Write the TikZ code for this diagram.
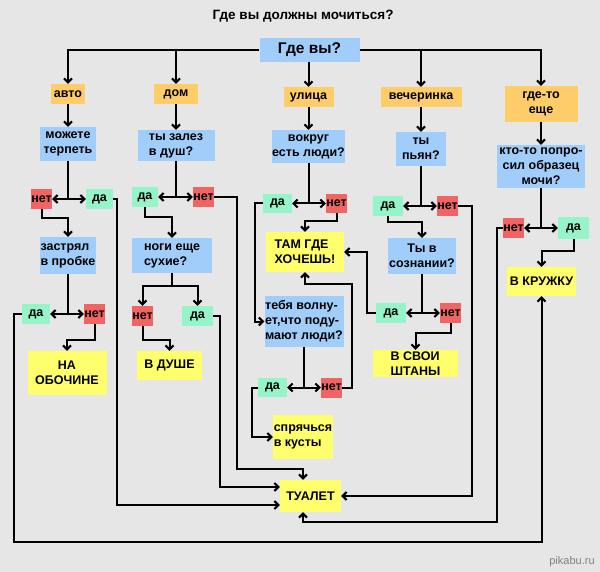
\documentclass[tikz,border=0pt]{standalone}
\usepackage{fontspec}
\setmainfont{Liberation Sans}
\usetikzlibrary{arrows.meta}

\definecolor{bggray}{RGB}{230,230,230}
\definecolor{qblue}{RGB}{160,205,250}
\definecolor{placeorange}{RGB}{254,204,104}
\definecolor{yesgreen}{RGB}{150,245,200}
\definecolor{nored}{RGB}{240,100,100}
\definecolor{endyellow}{RGB}{255,255,110}

\newcommand{\lblfont}{\fontsize{12.5}{15}\selectfont\bfseries}
\newcommand{\finfont}{\fontsize{12.5}{15.5}\selectfont\bfseries}

\tikzset{
  box/.style={inner sep=0pt, align=center, font=\lblfont},
  wh/.style 2 args={minimum width=#1pt, minimum height=#2pt},
  place/.style={box, fill=placeorange},
  question/.style={box, fill=qblue},
  yesbox/.style={box, fill=yesgreen},
  nobox/.style={box, fill=nored},
  finish/.style={box, fill=endyellow, font=\finfont},
  link/.style={line width=2pt},
  arr/.style={link, -{Straight Barb[length=4pt,width=8pt]}},
}

\begin{document}
\begin{tikzpicture}[x=1pt,y=-1pt]
% background of the picture
\fill[bggray] (0,0) rectangle (600,572);%
\useasboundingbox (0,0) rectangle (600,572);%

% Marking title and start box
\node[font=\fontsize{13.5}{16}\selectfont\bfseries] (title) at (303,16) {Где вы должны мочиться?};%
\node[question, wh={100}{24}, font=\fontsize{15.5}{18}\selectfont\bfseries] (gde) at (309.5,50) {Где вы?};%

% Marking the places
\node[place, wh={34}{20}] (avto) at (68,94) {авто};%
\node[place, wh={44}{20}] (dom) at (176,94) {дом};%
\node[place, wh={50}{20}] (ulica) at (308.5,97) {улица};%
\node[place, wh={81}{20}] (vecher) at (421,97) {вечеринка};%
\node[place, wh={73}{36}] (gdeto) at (541,104) {где-то\\еще};%

% Marking column avto
\node[question, wh={56}{34}] (terpet) at (68,144) {можете\\терпеть};%
\node[nobox, wh={21}{20}] (terpet-net) at (41.5,199) {нет};%
\node[yesbox, wh={27}{20}] (terpet-da) at (99.5,199) {да};%
\coordinate (terpet-j) at (68,199);%
\node[question, wh={56}{37}, align=left] (probka) at (68,255.5) {застрял\\в пробке};%
\node[yesbox, wh={28}{20}] (probka-da) at (36,314) {да};%
\node[nobox, wh={21}{20}] (probka-net) at (94.5,314) {нет};%
\coordinate (probka-j) at (68,314);%
\node[finish, wh={79}{44}] (obochina) at (67,373) {НА\\ОБОЧИНЕ};%

% Marking column dom
\node[question, wh={77}{31}, align=left] (dush) at (176,145.5) {ты залез\\в душ?};%
\node[yesbox, wh={26}{20}] (dush-da) at (145,197) {да};%
\node[nobox, wh={21}{20}] (dush-net) at (203.5,197) {нет};%
\coordinate (dush-j) at (176,197);%
\node[question, wh={80}{35}, align=left] (nogi) at (172,255.5) {ноги еще\\сухие?};%
\node[nobox, wh={21}{20}] (nogi-net) at (142.5,316) {нет};%
\node[yesbox, wh={31}{20}] (nogi-da) at (197.5,316) {да};%
\node[finish, wh={65}{29}] (vdushe) at (169.5,365.5) {В ДУШЕ};%

% Marking column ulica
\node[question, wh={68}{33}] (ljudi) at (308.5,146.5) {вокруг\\есть люди?};%
\node[yesbox, wh={29}{19}] (ljudi-da) at (277.5,203.5) {да};%
\node[nobox, wh={21}{19}] (ljudi-net) at (336.5,203.5) {нет};%
\coordinate (ljudi-j) at (308.5,203.5);%
\node[finish, wh={78}{40}, align=left] (tamgde) at (305,252) {ТАМ ГДЕ\\ХОЧЕШЬ!};%
\node[question, wh={79}{51}, align=left] (volnuet) at (304,321.5) {тебя волну-\\ет,что поду-\\мают люди?};%
\node[yesbox, wh={29}{19}] (volnuet-da) at (272.5,387.5) {да};%
\node[nobox, wh={21}{20}] (volnuet-net) at (331.5,387.5) {нет};%
\coordinate (volnuet-j) at (304,387.5);%
\node[finish, wh={60}{44}, align=left, font=\lblfont] (kusty) at (303,437) {спрячься\\в кусты};%
\node[finish, wh={61}{32}] (tualet) at (310.5,496) {ТУАЛЕТ};%

% Marking column vecherinka
\node[question, wh={50}{34}] (pjan) at (421,149) {ты\\пьян?};%
\node[yesbox, wh={30}{20}] (pjan-da) at (388,206) {да};%
\node[nobox, wh={21}{20}] (pjan-net) at (447.5,206) {нет};%
\coordinate (pjan-j) at (421,206);%
\node[question, wh={68}{36}] (soznanie) at (422,256) {Ты в\\сознании?};%
\node[yesbox, wh={30}{20}] (soznanie-da) at (391,313) {да};%
\node[nobox, wh={21}{20}] (soznanie-net) at (450.5,313) {нет};%
\coordinate (soznanie-j) at (422,313);%
\node[finish, wh={85}{27}, align=left, font=\fontsize{12.5}{14.5}\selectfont\bfseries] (shtany) at (415.5,363.5) {В СВОИ\\ШТАНЫ};%

% Marking column gde-to
\node[question, wh={88}{43}] (obrazec) at (541,166.5) {кто-то попро-\\сил образец\\мочи?};%
\node[nobox, wh={21}{20}] (obrazec-net) at (513.5,228) {нет};%
\node[yesbox, wh={31}{22}] (obrazec-da) at (573.5,228) {да};%
\coordinate (obrazec-j) at (541,228);%
\node[finish, wh={69}{29}] (kruzhka) at (541.5,281.5) {В КРУЖКУ};%

% Marking watermark
\node[font=\fontsize{11}{13}\selectfont, text=gray] (pikabu) at (572,562) {pikabu.ru};%

% Drawing arrows from start box
\draw[arr] (gde.west) -| (avto.north);%
\draw[arr] (gde.west) -| (dom.north);%
\draw[arr] (ulica.north |- gde.south) -- (ulica.north);%
\draw[arr] (gde.east) -| (vecher.north);%
\draw[arr] (gde.east) -| (gdeto.north);%

% Drawing column avto
\draw[arr] (avto.south) -- (terpet.north);%
\draw[link] (terpet.south) -- (terpet-j);%
\draw[arr] (terpet-j) -- (terpet-net.east);%
\draw[arr] (terpet-j) -- (terpet-da.west);%
\draw[arr] (terpet-net.south) -- ++(0,9) -| (probka.north);%
\draw[arr] (terpet-da.east) -- ++(4,0) |- ([yshift=-9pt]tualet.west);%
\draw[link] (probka.south) -- (probka-j);%
\draw[arr] (probka-j) -- (probka-da.east);%
\draw[arr] (probka-j) -- (probka-net.west);%
\draw[arr] (probka-net.south) -- ++(0,16) -| (obochina.north);%
\draw[arr] (probka-da.west) -| (14,542) -| (kruzhka.south);%

% Drawing column dom
\draw[arr] (dom.south) -- (dush.north);%
\draw[link] (dush.south) -- (dush-j);%
\draw[arr] (dush-j) -- (dush-da.east);%
\draw[arr] (dush-j) -- (dush-net.west);%
\draw[arr] (dush-da.south) -- ++(0,10) -| (nogi.north);%
\draw[arr] (dush-net.east) -| (237,469) -| ([xshift=-7.5pt]tualet.north);%
\draw[arr] (nogi.south) -- ++(0,13) -| (nogi-net.north);%
\draw[arr] (nogi.south) -- ++(0,13) -| (nogi-da.north);%
\draw[arr] (nogi-net.south) -- ++(0,14) -| (vdushe.north);%
\draw[arr] (nogi-da.east) -- ++(7,0) |- ([yshift=9pt]tualet.west);%

% Drawing column ulica
\draw[arr] (ulica.south) -- (ljudi.north);%
\draw[link] (ljudi.south) -- (ljudi-j);%
\draw[arr] (ljudi-j) -- (ljudi-da.east);%
\draw[arr] (ljudi-j) -- (ljudi-net.west);%
\draw[arr] (ljudi-net.south) -- ++(0,8) -| (tamgde.north);%
\draw[arr] (ljudi-da.west) -- ++(-8,0) |- (volnuet.west);%
\draw[link] (volnuet.south) -- (volnuet-j);%
\draw[arr] (volnuet-j) -- (volnuet-da.east);%
\draw[arr] (volnuet-j) -- (volnuet-net.west);%
\draw[arr] (volnuet-da.west) -- ++(-6,0) |- (kusty.west);%
\draw[arr] (volnuet-net.east) -| (352,284) -| (tamgde.south);%

% Drawing column vecherinka
\draw[arr] (vecher.south) -- (pjan.north);%
\draw[link] (pjan.south) -- (pjan-j);%
\draw[arr] (pjan-j) -- (pjan-da.east);%
\draw[arr] (pjan-j) -- (pjan-net.west);%
\draw[arr] (pjan-da.south) -- ++(0,6) -| (soznanie.north);%
\draw[arr] (pjan-net.east) -- ++(14,0) |- (tualet.east);%
\draw[link] (soznanie.south) -- (soznanie-j);%
\draw[arr] (soznanie-j) -- (soznanie-da.east);%
\draw[arr] (soznanie-j) -- (soznanie-net.west);%
\draw[arr] (soznanie-da.west) -- ++(-9,0) |- (tamgde.east);%
\draw[arr] (soznanie-net.south) -- ++(0,10) -| (shtany.north);%

% Drawing column gde-to
\draw[arr] (gdeto.south) -- (obrazec.north);%
\draw[link] (obrazec.south) -- (obrazec-j);%
\draw[arr] (obrazec-j) -- (obrazec-net.east);%
\draw[arr] (obrazec-j) -- (obrazec-da.west);%
\draw[arr] (obrazec-da.south) -- ++(0,12) -| (kruzhka.north);%
\draw[arr] (obrazec-net.west) -| (497,522) -| ([xshift=-7.5pt]tualet.south);%
\end{tikzpicture}
\end{document}
